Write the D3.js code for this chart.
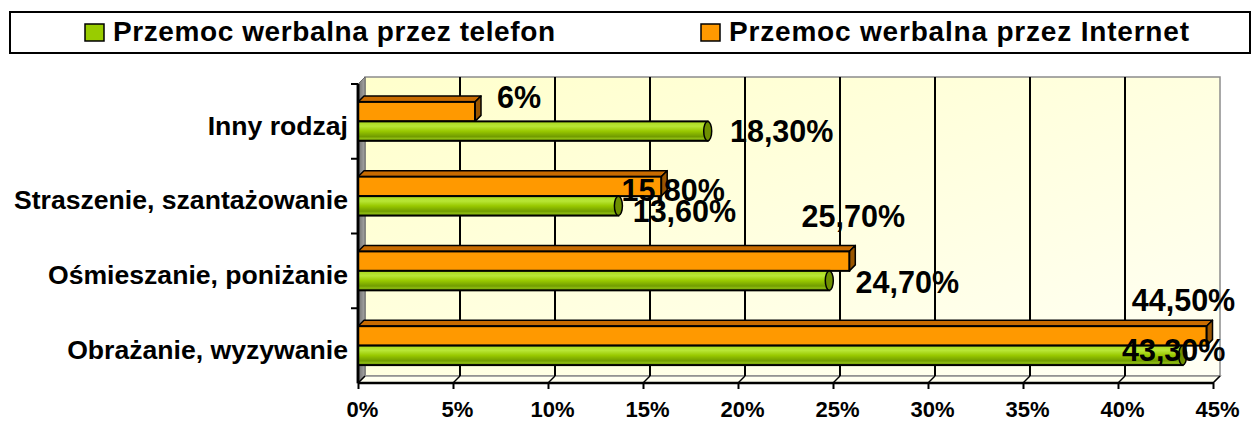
<!DOCTYPE html>
<html>
<head>
<meta charset="utf-8">
<script src="https://cdn.jsdelivr.net/npm/d3@7"></script>
<style>
  body { margin: 0; background: #fff; }
  svg text { font-family: "Liberation Sans", Arial, sans-serif; font-weight: bold; fill: #000; }
</style>
</head>
<body>
<div id="chart"></div>
<script>
const categories = ['Obrażanie, wyzywanie', 'Ośmieszanie, poniżanie', 'Straszenie, szantażowanie', 'Inny rodzaj'];
const seriesNames = ['Przemoc werbalna przez telefon', 'Przemoc werbalna przez Internet'];
const phoneValues = [43.3, 24.7, 13.6, 18.3];
const internetValues = [44.5, 25.7, 15.8, 6];
const phoneLabels = ['43,30%', '24,70%', '13,60%', '18,30%'];
const internetLabels = ['44,50%', '25,70%', '15,80%', '6%'];
const xTicks = [0, 5, 10, 15, 20, 25, 30, 35, 40, 45];

const w = 1253;
const h = 421;
const depth = 7;      // 3d wall offset
const barDepth = 6;   // 3d bar offset

const svg = d3.select('#chart')
  .append('svg')
  .attr('width', w)
  .attr('height', h);

const defs = svg.append('defs');

const wallGrad = defs.append('linearGradient')
  .attr('id', 'wall')
  .attr('x1', '0%').attr('y1', '0%').attr('x2', '100%').attr('y2', '100%');
wallGrad.append('stop').attr('offset', '0%').attr('stop-color', '#ffffcc');
wallGrad.append('stop').attr('offset', '100%').attr('stop-color', '#fffff4');

const sideGrad = defs.append('linearGradient')
  .attr('id', 'side')
  .attr('x1', '0%').attr('y1', '0%').attr('x2', '100%').attr('y2', '0%');
sideGrad.append('stop').attr('offset', '0%').attr('stop-color', '#6e6e6e');
sideGrad.append('stop').attr('offset', '100%').attr('stop-color', '#a6a6a6');

const cylGrad = defs.append('linearGradient')
  .attr('id', 'cyl')
  .attr('x1', '0%').attr('y1', '0%').attr('x2', '0%').attr('y2', '100%');
[['0%', '#a9d81c'], ['25%', '#b8e636'], ['50%', '#99c900'], ['78%', '#719c00'], ['88%', '#8dbb12'], ['100%', '#628a00']]
  .forEach(s => cylGrad.append('stop').attr('offset', s[0]).attr('stop-color', s[1]));

// legend
const legend = svg.append('g').attr('id', 'legend');
legend.append('rect')
  .attr('x', 10).attr('y', 12)
  .attr('width', 1240).attr('height', 41)
  .attr('fill', '#fff').attr('stroke', '#000').attr('stroke-width', 2);

const legendItems = [
  { name: seriesNames[0], color: '#99cc00', x: 85, len: 442 },
  { name: seriesNames[1], color: '#ff9900', x: 701, len: 460 }
];
legendItems.forEach(function(d) {
  legend.append('rect')
    .attr('x', d.x).attr('y', 24)
    .attr('width', 19).attr('height', 17)
    .attr('fill', d.color).attr('stroke', '#000').attr('stroke-width', 1.5);
  legend.append('text')
    .attr('x', d.x + 28).attr('y', 41)
    .attr('textLength', d.len)
    .attr('lengthAdjust', 'spacing')
    .style('font-size', '28px')
    .text(d.name);
});

// scales
const xScale = d3.scaleLinear().domain([0, 45]).range([358, 1213]);
const yScale = d3.scaleBand().domain(categories).range([383, 84]);
const sScale = d3.scaleBand()
  .domain(['internet', 'phone'])
  .range([0, yScale.bandwidth()])
  .paddingInner(0)
  .paddingOuter(0.92);

const x0 = xScale(0), x1 = xScale(45);
const yTop = yScale.range()[1], yBot = yScale.range()[0];

// walls
svg.append('rect')
  .attr('x', x0 + depth).attr('y', yTop - depth)
  .attr('width', x1 - x0).attr('height', yBot - yTop)
  .attr('fill', 'url(#wall)')
  .attr('stroke', '#8c8c8c').attr('stroke-width', 1.5);

svg.append('polygon')
  .attr('points', [[x0, yTop], [x0 + depth, yTop - depth], [x0 + depth, yBot - depth], [x0, yBot]].join(' '))
  .attr('fill', 'url(#side)').attr('stroke', '#555').attr('stroke-width', 0.8);

svg.append('polygon')
  .attr('points', [[x0, yBot], [x0 + depth, yBot - depth], [x1 + depth, yBot - depth], [x1, yBot]].join(' '))
  .attr('fill', '#fffff0').attr('stroke', '#8c8c8c').attr('stroke-width', 1.5);

// gridlines
svg.append('g')
  .selectAll('line')
  .data(xTicks.slice(1, -1))
  .enter()
  .append('line')
  .attr('x1', d => xScale(d) + depth).attr('x2', d => xScale(d) + depth)
  .attr('y1', yTop - depth).attr('y2', yBot - depth)
  .attr('stroke', '#000').attr('stroke-width', 2);

svg.append('g')
  .selectAll('line')
  .data(xTicks)
  .enter()
  .append('line')
  .attr('x1', d => xScale(d)).attr('x2', d => xScale(d) + depth)
  .attr('y1', yBot).attr('y2', yBot - depth)
  .attr('stroke', '#000').attr('stroke-width', 1.5);

// x axis
const xAxis = d3.axisBottom(xScale)
  .tickValues(xTicks)
  .tickSize(6)
  .tickPadding(12)
  .tickFormat(d => d + '%');

const gx = svg.append('g')
  .attr('id', 'x-axis')
  .attr('transform', 'translate(0, ' + yBot + ')')
  .call(xAxis);
gx.select('.domain').attr('stroke', '#000').attr('stroke-width', 2.5).attr('d', 'M' + x0 + ',0H' + x1);
gx.selectAll('.tick line').attr('stroke', '#000').attr('stroke-width', 2);
gx.selectAll('.tick text')
  .attr('dx', 4)
  .style('font-size', '22px')
  .style('font-family', '"Liberation Sans", Arial, sans-serif')
  .style('font-weight', 'bold')
  .attr('fill', '#000');

// y axis
const yAxis = d3.axisLeft(yScale).tickSize(0).tickPadding(10);
const gy = svg.append('g')
  .attr('id', 'y-axis')
  .attr('transform', 'translate(' + x0 + ', 0)')
  .call(yAxis);
gy.select('.domain').attr('stroke', '#000').attr('stroke-width', 2.5).attr('d', 'M0,' + yTop + 'V' + yBot);
gy.selectAll('.tick text')
  .attr('dy', '0.5em')
  .style('font-size', '26.6px')
  .style('font-family', '"Liberation Sans", Arial, sans-serif')
  .style('font-weight', 'bold')
  .attr('fill', '#000');

const bounds = categories.map(c => yScale(c)).concat([yTop]);
gy.append('g')
  .selectAll('line')
  .data(bounds)
  .enter()
  .append('line')
  .attr('x1', -7).attr('x2', 0)
  .attr('y1', d => d).attr('y2', d => d)
  .attr('stroke', '#000').attr('stroke-width', 2);

// internet bars (3d boxes)
const boxes = svg.append('g').attr('id', 'internet');
categories.forEach(function(c, i) {
  const v = internetValues[i];
  const top = yScale(c) + sScale('internet');
  const bh = sScale.bandwidth();
  const xe = xScale(v) + 3;
  boxes.append('polygon')
    .attr('points', [[x0, top], [x0 + barDepth, top - barDepth], [xe + barDepth, top - barDepth], [xe, top]].join(' '))
    .attr('fill', '#c86b00').attr('stroke', '#000').attr('stroke-width', 1.5).attr('stroke-linejoin', 'round');
  boxes.append('polygon')
    .attr('points', [[xe, top], [xe + barDepth, top - barDepth], [xe + barDepth, top + bh - barDepth], [xe, top + bh]].join(' '))
    .attr('fill', '#995500').attr('stroke', '#000').attr('stroke-width', 1.5).attr('stroke-linejoin', 'round');
  boxes.append('rect')
    .attr('x', x0).attr('y', top)
    .attr('width', xe - x0).attr('height', bh)
    .attr('fill', '#ff9900').attr('stroke', '#000').attr('stroke-width', 2);
});

// phone bars (cylinders)
const cyl = svg.append('g').attr('id', 'phone');
categories.forEach(function(c, i) {
  const v = phoneValues[i];
  const top = yScale(c) + sScale('phone');
  const bh = sScale.bandwidth();
  const xe = xScale(v) + 2;
  cyl.append('rect')
    .attr('x', x0).attr('y', top)
    .attr('width', xe - x0).attr('height', bh)
    .attr('fill', 'url(#cyl)').attr('stroke', '#000').attr('stroke-width', 2);
  cyl.append('ellipse')
    .attr('cx', xe).attr('cy', top + bh / 2)
    .attr('rx', 4).attr('ry', bh / 2)
    .attr('fill', '#6e8f00').attr('stroke', '#000').attr('stroke-width', 1.5);
});

// redraw left axis line over bars
svg.append('line')
  .attr('x1', x0).attr('x2', x0)
  .attr('y1', yTop).attr('y2', yBot)
  .attr('stroke', '#000').attr('stroke-width', 2.5);

// value labels: nudges from the bar end, as placed in the original
const internetNudge = [[-20, -36], [7, -45], [15, 4], [47, -15]];
const phoneNudge = [[-7, -5], [80, 1], [68, 5], [76, 0]];

const labels = svg.append('g').attr('id', 'labels');
categories.forEach(function(c, i) {
  const bh = sScale.bandwidth();
  const yi = yScale(c) + sScale('internet') + bh / 2;
  const yp = yScale(c) + sScale('phone') + bh / 2;
  labels.append('text')
    .attr('x', xScale(internetValues[i]) + internetNudge[i][0])
    .attr('y', yi + internetNudge[i][1])
    .attr('dy', '0.36em')
    .attr('text-anchor', 'middle')
    .style('font-size', '30.5px')
    .text(internetLabels[i]);
  labels.append('text')
    .attr('x', xScale(phoneValues[i]) + phoneNudge[i][0])
    .attr('y', yp + phoneNudge[i][1])
    .attr('dy', '0.36em')
    .attr('text-anchor', 'middle')
    .style('font-size', '30.5px')
    .text(phoneLabels[i]);
});
</script>
</body>
</html>
